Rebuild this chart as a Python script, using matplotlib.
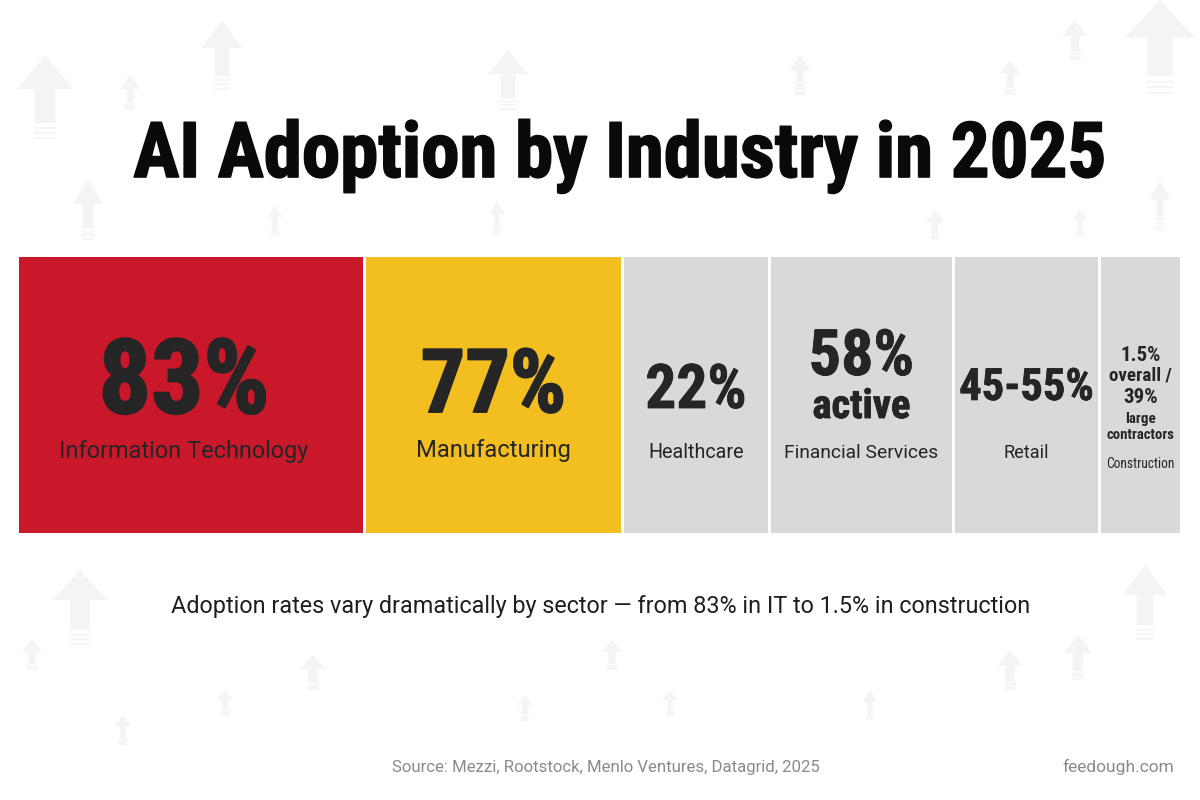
import os
import matplotlib
matplotlib.use("Agg")
import matplotlib.pyplot as plt
from matplotlib import font_manager as fm
from matplotlib import patheffects as pe
from matplotlib.font_manager import FontProperties
from matplotlib.patches import Polygon

# ---------------- data ----------------
industries = ["Information Technology", "Manufacturing", "Healthcare",
              "Financial Services", "Retail", "Construction"]
adoption_headline = ["83%", "77%", "22%", "58%", "45-55%", "1.5%"]
adoption_notes = [[], [], [], ["active"], [],
                  ["overall /", "39%", "large", "contractors"]]
title = "AI Adoption by Industry in 2025"
subtitle = "Adoption rates vary dramatically by sector \u2014 from 83% in IT to 1.5% in construction"
source = "Source: Mezzi, Rootstock, Menlo Ventures, Datagrid, 2025"
brand = "feedough.com"

# ---------------- layout / style ----------------
tile_widths = [344, 255, 144, 181, 143, 79]
tile_colors = ["#C8182A", "#F3BE20", "#D9D9D9", "#D9D9D9", "#D9D9D9", "#D9D9D9"]
text_shift = [-7, 0, 0, 0, 0, 0]
gap = 3
x0, y_top, tile_h = 19, 257, 276
TXT = "#252525"


# ---------------- font selection ----------------
def wnum(w):
    if isinstance(w, (int, float)):
        return w
    return fm.weight_dict.get(w, 400)


def width_class(f):
    fn = os.path.basename(f.fname).lower().replace("-", "").replace("_", "")
    if "extracond" in fn or "ultracond" in fn:
        return "extracond"
    if "semicond" in fn:
        return "semicond"
    if "cond" in fn or "narrow" in fn or f.stretch == "condensed":
        return "cond"
    return "normal"


FAMS = ["Roboto Condensed", "Noto Sans", "Open Sans Condensed", "Open Sans",
        "Liberation Sans Narrow", "Roboto", "DejaVu Sans", "Inter", "Lato",
        "Liberation Sans"]


def find_font(classes, weight):
    best, best_score = None, None
    for f in fm.fontManager.ttflist:
        if f.name not in FAMS or f.style != "normal":
            continue
        c = width_class(f)
        if c not in classes:
            continue
        score = classes.index(c) * 1000 + FAMS.index(f.name) * 50 + abs(wnum(f.weight) - weight) / 10
        if best_score is None or score < best_score:
            best, best_score = f, score
    if best is None:
        return FontProperties(family="DejaVu Sans", weight="bold")
    return FontProperties(fname=best.fname)


F_TITLE = find_font(["extracond", "cond", "semicond", "normal"], 900)
F_NUM = find_font(["cond", "extracond", "semicond", "normal"], 900)
F_NOTE = find_font(["cond", "semicond", "extracond", "normal"], 700)
F_SMALL = find_font(["cond", "semicond", "normal"], 400)
F_REG = FontProperties(family=["Roboto", "DejaVu Sans"])

fig = plt.figure(figsize=(12, 8), dpi=100)
fig.patch.set_facecolor("white")
ax = fig.add_axes([0, 0, 1, 1])
ax.set_xlim(0, 1200)
ax.set_ylim(800, 0)
ax.axis("off")
renderer = fig.canvas.get_renderer()

# faint background arrows (decoration)
arrows = [(45, 55, 85, 56), (222, 20, 70, 40), (130, 75, 35, 20), (508, 50, 60, 40),
          (800, 55, 40, 20), (1010, 60, 35, 20), (1075, 20, 40, 25), (1160, 0, 95, 70),
          (88, 180, 60, 30), (275, 205, 30, 15), (497, 200, 35, 15), (935, 210, 30, 18),
          (1080, 210, 25, 15), (1160, 180, 50, 20), (80, 570, 75, 55), (32, 640, 30, 20),
          (123, 715, 30, 18), (225, 690, 25, 15), (313, 655, 35, 25), (525, 695, 25, 15),
          (612, 640, 30, 20), (670, 690, 25, 15), (870, 690, 30, 15), (1010, 650, 40, 25),
          (1078, 635, 45, 28), (1145, 565, 75, 45)]
for cx, ty, h, w in arrows:
    head = h * 0.4
    sw = w * 0.36
    pts = [(cx, ty), (cx + w / 2, ty + head), (cx + sw / 2, ty + head),
           (cx + sw / 2, ty + h * 0.8), (cx - sw / 2, ty + h * 0.8),
           (cx - sw / 2, ty + head), (cx - w / 2, ty + head)]
    ax.add_patch(Polygon(pts, closed=True, facecolor="#f4f4f4", edgecolor="none", zorder=0))
    for k in range(3):
        yy = ty + h * 0.86 + k * h * 0.06
        ax.plot([cx - sw / 2, cx + sw / 2], [yy, yy], color="#f6f6f6", lw=1.5, zorder=0)


def fit_text(x, y, s, fp, width_px=None, cap_px=None, max_w=None,
             color=TXT, ha="center", stroke=0):
    t = ax.text(x, y, s, fontproperties=fp.copy(), color=color,
                ha=ha, va="baseline", zorder=5)
    t.set_fontsize(10)
    w10 = t.get_window_extent(renderer=renderer).width
    sizes = []
    if width_px is not None:
        sizes.append(10 * width_px / w10)
    if cap_px is not None:
        sizes.append(cap_px / 0.715 * 72 / 100)
    size = sum(sizes) / len(sizes)
    if max_w is not None:
        size = min(size, 10 * max_w / w10)
    t.set_fontsize(size)
    if stroke:
        t.set_path_effects([pe.withStroke(linewidth=stroke, foreground=color)])
    return t


# ---------------- tiles ----------------
lefts = []
cur = x0
for w in tile_widths:
    lefts.append(cur)
    cur += w + gap
ax.bar(lefts, [tile_h] * len(lefts), width=tile_widths, bottom=y_top, align="edge",
       color=tile_colors, edgecolor="none", zorder=2)
centers = [l + w / 2 + d for l, w, d in zip(lefts, tile_widths, text_shift)]

# headline numbers: (baseline y, width, cap, stroke)
head_spec = [(413, 176, 72, 1.6), (412, 140, 66, 1.4), (408, 92, 50, 0.6),
             (375, 102, 47, 0.6), (400, 124, 35, 0.5), (361, 40, 15, 0)]
label_spec = [(458, 250), (457, 155), (458, 95), (458, 154), (458, 45), (468, 65)]

for i in range(len(industries)):
    cx = centers[i]
    yb, wpx, cpx, stk = head_spec[i]
    fp = F_NUM if i < 5 else F_NOTE
    fit_text(cx, yb, adoption_headline[i], fp, wpx, cpx,
             max_w=min(wpx * 1.1, tile_widths[i] - 8), stroke=stk)
    lb, lw = label_spec[i]
    if i == 5:
        fit_text(cx, lb, industries[i], F_SMALL, lw, 11, max_w=lw * 1.05)
    else:
        fit_text(cx, lb, industries[i], F_REG, lw)

# notes
fit_text(centers[3], 418, adoption_notes[3][0], F_NUM, 90, 33, max_w=98, stroke=0.6)
note_spec = [(380, 61, 14), (403, 35, 15), (423, 30, 11), (439, 65, 11)]
for s, (yb, wpx, cpx) in zip(adoption_notes[5], note_spec):
    fit_text(centers[5], yb, s, F_NOTE, wpx, cpx, max_w=min(wpx * 1.05, 74))

# ---------------- texts ----------------
fit_text(620, 177, title, F_TITLE, 962, 66, max_w=975, color="#0a0a0a", stroke=1.2)
fit_text(601, 613, subtitle, F_REG, 851, 18, max_w=860, color="#1e1e1e")
fit_text(606, 772, source, F_REG, 428, color="#8a8a8a")
fit_text(1174, 772, brand, F_REG, 112, color="#8a8a8a", ha="right")

fig.savefig("out.png", dpi=100, facecolor="white")
